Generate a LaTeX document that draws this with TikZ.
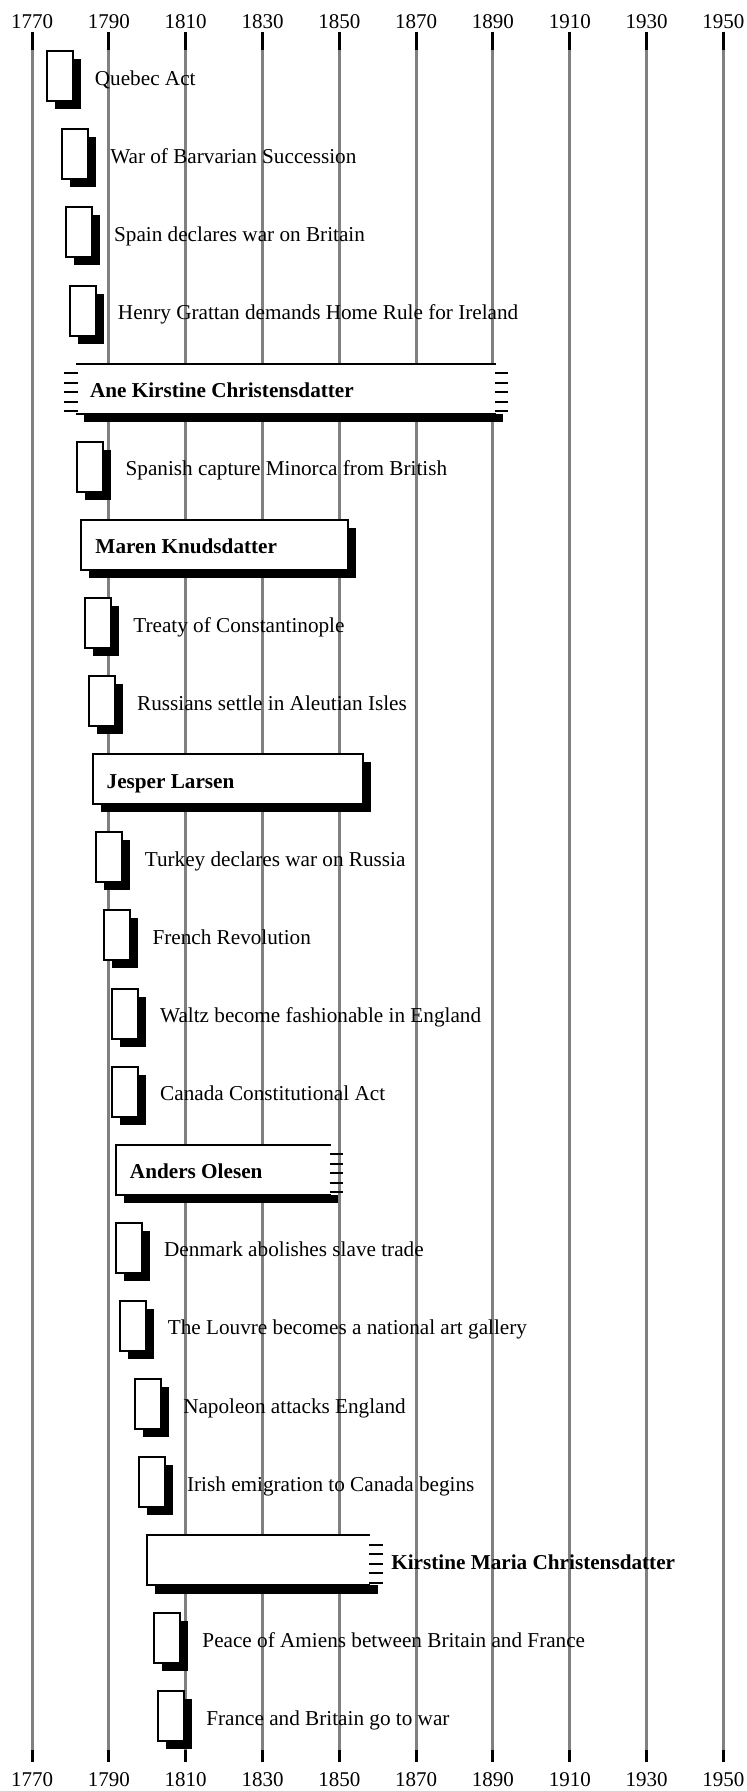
\documentclass[tikz,border=0pt]{standalone}
\usepackage{fontspec}
\setmainfont{Liberation Serif}
\usetikzlibrary{positioning, shadows}

\begin{document}
\begin{tikzpicture}[
        x=1.92035pt, y=-0.5pt,
        font=\fontsize{10.6}{12}\selectfont,
        yearline/.style={line width=1.5pt, gray},
        yeartick/.style={line width=1.5pt, black},
        yearlabel/.style={inner sep=0pt, font=\fontsize{10.5}{12}\selectfont},
        event/.style={draw, line width=1pt, fill=white, minimum width=13pt, minimum height=25pt, inner sep=0pt, outer sep=0pt, anchor=west,
            drop shadow={shadow xshift=4pt, shadow yshift=-4pt, fill=black, opacity=1}},
        eventtext/.style={inner sep=0pt, yshift=-4.5pt},
        person/.style={draw, line width=1pt, fill=white, minimum height=25pt, inner sep=0pt, outer sep=0pt, anchor=west,
            drop shadow={shadow xshift=4pt, shadow yshift=-4pt, fill=black, opacity=1}},
        fuzzy/.style={fill=white, minimum height=25pt, inner sep=0pt, outer sep=0pt, anchor=west},
        rim/.style={line width=1pt},
        fuzztick/.style={line width=0.9pt},
        namelabel/.style={inner sep=0pt, yshift=-4.5pt, font=\fontsize{10.6}{12}\selectfont\bfseries}
    ]
        \useasboundingbox (1761.668,0) rectangle (1955.904,1791);

        % Year grid
        \foreach \yr in {1770,1790,...,1950} {
            \draw[yearline] (\yr,50) -- (\yr,1750);
            \draw[yeartick] (\yr,32) -- (\yr,50);
            \draw[yeartick] (\yr,1750) -- (\yr,1762);
            \node[yearlabel] (top\yr) at (\yr,22) {\yr};
            \node[yearlabel] (bot\yr) at (\yr,1780) {\yr};
        }

        % Events
        \foreach \yr/\row/\txt in {1774/1/Quebec Act, 1778/2/War of Barvarian Succession,
                1779/3/Spain declares war on Britain, 1780/4/Henry Grattan demands Home Rule for Ireland,
                1782/6/Spanish capture Minorca from British, 1784/8/Treaty of Constantinople,
                1785/9/Russians settle in Aleutian Isles, 1787/11/Turkey declares war on Russia,
                1789/12/French Revolution, 1791/13/Waltz become fashionable in England,
                1791/14/Canada Constitutional Act, 1792/16/Denmark abolishes slave trade,
                1793/17/The Louvre becomes a national art gallery, 1797/18/Napoleon attacks England,
                1798/19/Irish emigration to Canada begins, 1802/21/Peace of Amiens between Britain and France,
                1803/22/France and Britain go to war} {
            \node[event] (ev\row) at ({\yr-0.24}, {76.3+78.1*(\row-1)}) {};
            \node[eventtext, base right=11pt of ev\row] (evtext\row) {\txt};
        }

        % Ane Kirstine Christensdatter (both ends uncertain)
        \node[fuzzy, minimum width=209.85pt] (ane) at (1781.46, 388.7) {};
        \fill ([xshift=3.75pt]ane.south west) rectangle ([xshift=3.75pt, yshift=-4.25pt]ane.south east);
        \draw[rim] (ane.north west) -- (ane.north east);
        \draw[rim] (ane.south west) -- (ane.south east);
        \foreach \k in {1,...,5} {
            \draw[fuzztick] ([xshift=-6pt, yshift={-\k*4.75pt}]ane.north west) -- ++(6.75pt,0);
            \draw[fuzztick] ([xshift=-0.5pt, yshift={-\k*4.75pt}]ane.north east) -- ++(6.75pt,0);
        }
        \node[namelabel, base right=6.75pt of ane.west] (anename) {Ane Kirstine Christensdatter};

        % Maren Knudsdatter
        \node[person, minimum width=133.35pt] (maren) at (1782.76, 544.9) {};
        \node[namelabel, base right=7pt of maren.west] (marenname) {Maren Knudsdatter};

        % Jesper Larsen
        \node[person, minimum width=135.3pt] (jesper) at (1785.8, 779.2) {};
        \node[namelabel, base right=6.75pt of jesper.west] (jespername) {Jesper Larsen};

        % Anders Olesen (end uncertain)
        \node[fuzzy, minimum width=107.35pt] (anders) at (1791.87, 1169.7) {};
        \fill ([xshift=3.75pt]anders.south west) rectangle ([xshift=3.75pt, yshift=-4.25pt]anders.south east);
        \draw[rim] (anders.north east) -- (anders.north west) -- (anders.south west) -- (anders.south east);
        \foreach \k in {1,...,5}
            \draw[fuzztick] ([xshift=-0.5pt, yshift={-\k*4.75pt}]anders.north east) -- ++(6.75pt,0);
        \node[namelabel, base right=6.75pt of anders.west] (andersname) {Anders Olesen};

        % Kirstine Maria Christensdatter (end uncertain)
        \node[fuzzy, minimum width=111.5pt] (kirstine) at (1799.94, 1560.2) {};
        \fill ([xshift=3.75pt]kirstine.south west) rectangle ([xshift=3.75pt, yshift=-4.25pt]kirstine.south east);
        \draw[rim] (kirstine.north east) -- (kirstine.north west) -- (kirstine.south west) -- (kirstine.south east);
        \foreach \k in {1,...,5}
            \draw[fuzztick] ([xshift=-0.5pt, yshift={-\k*4.75pt}]kirstine.north east) -- ++(6.75pt,0);
        \node[namelabel, base right=10.4pt of kirstine.east] (kirstinename) {Kirstine Maria Christensdatter};
    \end{tikzpicture}
\end{document}
